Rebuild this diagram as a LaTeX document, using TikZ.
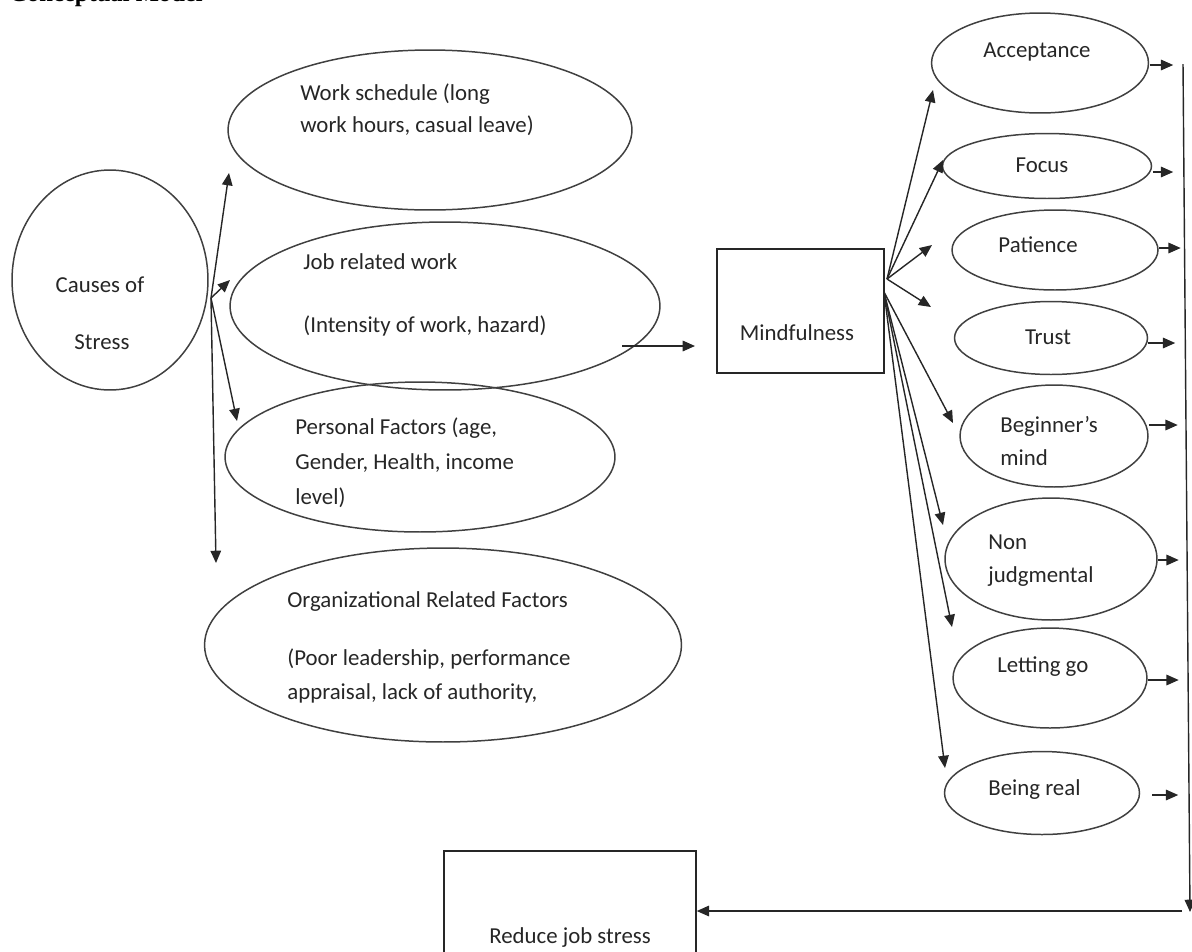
\documentclass[tikz,border=0pt]{standalone}
\usepackage{fontspec}
\setmainfont{Carlito}
\newfontfamily\titlefont{Liberation Serif}
\usetikzlibrary{shapes.geometric,arrows.meta}

\begin{document}
\begin{tikzpicture}[x=0.02cm, y=-0.02cm,
    font=\fontsize{13}{16}\selectfont, text=black!85,
    oval/.style 2 args={ellipse, draw=black!75, line width=0.85pt, inner sep=0pt,
      minimum width=#1*0.2mm, minimum height=#2*0.2mm},
    box/.style 2 args={rectangle, draw=black!85, line width=0.85pt, inner sep=0pt,
      minimum width=#1*0.2mm, minimum height=#2*0.2mm},
    txt/.style={anchor=base west, inner sep=0pt},
    ctxt/.style={anchor=base, inner sep=0pt},
    arr/.style={-{Triangle[length=7pt,width=6pt]}, line width=0.8pt, draw=black!85},
  ]
  \useasboundingbox (0,0) rectangle (1192,951);

  \node[anchor=base west, inner sep=0pt, text=black,
    font={\titlefont\bfseries\fontsize{14}{16}\selectfont}] (title) at (9,1) {Conceptual Model};

  \node[oval={196}{220}] (causes) at (110,280) {};
  \node[ctxt] (causes1) at (100,292) {Causes of};
  \node[ctxt] (causes2) at (102,349) {Stress};

  \node[oval={404}{160}] (work) at (430,130) {};
  \node[txt] (work1) at (300,100) {Work schedule (long};
  \node[txt] (work2) at (300,132) {work hours, casual leave)};

  \node[oval={430}{168}] (job) at (445,306) {};
  \node[txt] (job1) at (303,269) {Job related work};
  \node[txt] (job2) at (303,332) {(Intensity of work, hazard)};

  \node[oval={390}{150}] (pers) at (420,457) {};
  \node[txt] (pers1) at (295,434) {Personal Factors (age,};
  \node[txt] (pers2) at (295,469) {Gender, Health, income};
  \node[txt] (pers3) at (295,504) {level)};

  \node[oval={477}{194}] (org) at (443,645) {};
  \node[txt] (org1) at (287,607) {Organizational Related Factors};
  \node[txt] (org2) at (287,665) {(Poor leadership, performance};
  \node[txt] (org3) at (287,699) {appraisal, lack of authority,};

  \node[box={167}{124}] (mind) at (800.5,311) {};
  \node[ctxt] (mind1) at (797,340) {Mindfulness};

  \node[box={252}{160}] (reduce) at (570,931) {};
  \node[ctxt] (reduce1) at (570,943) {Reduce job stress};

  \node[oval={217}{100}] (acc) at (1040,63) {};
  \node[ctxt] (acc1) at (1037,57) {Acceptance};
  \node[oval={209}{65}] (foc) at (1047,166) {};
  \node[ctxt] (foc1) at (1042,172) {Focus};
  \node[oval={206}{80}] (pat) at (1055,250) {};
  \node[ctxt] (pat1) at (1038,252) {Patience};
  \node[oval={193}{73}] (tru) at (1051,338) {};
  \node[ctxt] (tru1) at (1048,344) {Trust};
  \node[oval={188}{102}] (beg) at (1054,436) {};
  \node[txt] (beg1) at (1000,432) {Beginner’s};
  \node[txt] (beg2) at (1000,465) {mind};
  \node[oval={212}{122}] (non) at (1051,559) {};
  \node[txt] (non1) at (988,549) {Non};
  \node[txt] (non2) at (988,582) {judgmental};
  \node[oval={194}{100}] (let) at (1050,678) {};
  \node[txt] (let1) at (997,672) {Letting go};
  \node[oval={195}{83}] (bre) at (1042,793) {};
  \node[txt] (bre1) at (988,795) {Being real};

  \coordinate (cs) at (211,298);
  \coordinate (cs-work) at (229,173);
  \coordinate (cs-job) at (230,280);
  \coordinate (cs-pers) at (237,421);
  \coordinate (cs-org) at (216,563);
  \draw[arr] (cs) -- (cs-work);
  \draw[arr] (cs) -- (cs-job);
  \draw[arr] (cs) -- (cs-pers);
  \draw[arr] (cs) -- (cs-org);

  \coordinate (jm-from) at (622,346);
  \coordinate (jm-to) at (695,346);
  \draw[arr] (jm-from) -- (jm-to);

  \coordinate (m0) at (887,279);
  \coordinate (m1) at (884,292);
  \coordinate (m-acc) at (933,90);
  \coordinate (m-foc) at (943,160);
  \coordinate (m-pat) at (932,245);
  \coordinate (m-tru) at (931,307);
  \coordinate (m-beg) at (953,423);
  \coordinate (m-non) at (943,525);
  \coordinate (m-let) at (952,627);
  \coordinate (m-bre) at (945,768);
  \draw[arr] (m0) -- (m-acc);
  \draw[arr] (m0) -- (m-foc);
  \draw[arr] (m0) -- (m-pat);
  \draw[arr] (m0) -- (m-tru);
  \draw[arr] (m1) -- (m-beg);
  \draw[arr] (m1) -- (m-non);
  \draw[arr] (m1) -- (m-let);
  \draw[arr] (m1) -- (m-bre);

  \draw[arr] ([shift={(1,2)}]acc.east) -- ++(23,0);
  \draw[arr] ([shift={(1,6)}]foc.east) -- ++(20,0);
  \draw[arr] ([shift={(0,-2)}]pat.east) -- ++(22,0);
  \draw[arr] ([shift={(0,5)}]tru.east) -- ++(27,0);
  \draw[arr] ([shift={(0,-11)}]beg.east) -- ++(29,0);
  \draw[arr] ([shift={(0,1)}]non.east) -- ++(21,0);
  \draw[arr] ([shift={(0,2)}]let.east) -- ++(31,0);
  \draw[arr] ([shift={(12,2)}]bre.east) -- ++(26,0);

  \coordinate (vtop) at (1183,64);
  \coordinate (vbot) at (1190,912);
  \draw[arr] (vtop) -- (vbot);
  \coordinate (hstart) at (1182,911);
  \draw[arr] (hstart) -- (reduce.east |- hstart);

\end{tikzpicture}
\end{document}
